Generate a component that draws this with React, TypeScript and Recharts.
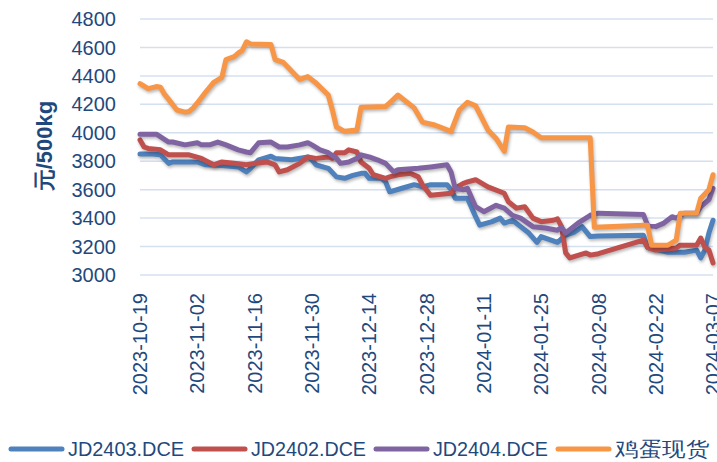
import React from 'react';
import { LineChart, Line, XAxis, YAxis, CartesianGrid } from 'recharts';

// tick labels on the date axis (every 14 days)
const tickDates = [
  '2023-10-19', '2023-11-02', '2023-11-16', '2023-11-30', '2023-12-14', '2023-12-28',
  '2024-01-11', '2024-01-25', '2024-02-08', '2024-02-22', '2024-03-07',
];
const yTicks = [3000, 3200, 3400, 3600, 3800, 4000, 4200, 4400, 4600, 4800];

// JD2403.DCE
const jd2403Dates = [
  '2023-10-19', '2023-10-22', '2023-10-24', '2023-10-26', '2023-10-27', '2023-11-02', '2023-11-04',
  '2023-11-08', '2023-11-12', '2023-11-14', '2023-11-15', '2023-11-17', '2023-11-20', '2023-11-21',
  '2023-11-25', '2023-11-29', '2023-11-30', '2023-12-01', '2023-12-04', '2023-12-06', '2023-12-08',
  '2023-12-10', '2023-12-12', '2023-12-13', '2023-12-14', '2023-12-17', '2023-12-18', '2023-12-19',
  '2023-12-22', '2023-12-25', '2023-12-27', '2023-12-29', '2024-01-02', '2024-01-03', '2024-01-04',
  '2024-01-07', '2024-01-09', '2024-01-10', '2024-01-13', '2024-01-15', '2024-01-16', '2024-01-18',
  '2024-01-20', '2024-01-22', '2024-01-24', '2024-01-25', '2024-01-29', '2024-01-31', '2024-02-02',
  '2024-02-04', '2024-02-06', '2024-02-08', '2024-02-19', '2024-02-20', '2024-02-25', '2024-02-29',
  '2024-03-03', '2024-03-04', '2024-03-05', '2024-03-06', '2024-03-07',
];
const jd2403Values = [
  3850, 3850, 3845, 3785, 3795, 3795, 3775,
  3770, 3760, 3725, 3750, 3810, 3835, 3820,
  3810, 3830, 3810, 3775, 3750, 3690, 3680,
  3700, 3715, 3715, 3680, 3680, 3655, 3585,
  3610, 3635, 3620, 3635, 3635, 3600, 3540,
  3540, 3410, 3350, 3375, 3400, 3365, 3385,
  3340, 3295, 3230, 3270, 3230, 3280, 3300,
  3340, 3270, 3275, 3280, 3195, 3160, 3160,
  3175, 3120, 3175, 3295, 3385,
];

// JD2402.DCE
const jd2402Dates = [
  '2023-10-19', '2023-10-20', '2023-10-21', '2023-10-24', '2023-10-26', '2023-10-31', '2023-11-03',
  '2023-11-06', '2023-11-08', '2023-11-11', '2023-11-14', '2023-11-16', '2023-11-19', '2023-11-21',
  '2023-11-22', '2023-11-24', '2023-11-27', '2023-11-29', '2023-12-01', '2023-12-04', '2023-12-05',
  '2023-12-06', '2023-12-08', '2023-12-09', '2023-12-11', '2023-12-12', '2023-12-14', '2023-12-15',
  '2023-12-18', '2023-12-19', '2023-12-21', '2023-12-24', '2023-12-26', '2023-12-27', '2023-12-29',
  '2024-01-03', '2024-01-04', '2024-01-06', '2024-01-07', '2024-01-09', '2024-01-12', '2024-01-16',
  '2024-01-17', '2024-01-19', '2024-01-21', '2024-01-23', '2024-01-25', '2024-01-28', '2024-01-29',
  '2024-01-30', '2024-01-31', '2024-02-01', '2024-02-05', '2024-02-06', '2024-02-08', '2024-02-19',
  '2024-02-20', '2024-02-22', '2024-02-27', '2024-02-28', '2024-03-03', '2024-03-04', '2024-03-05',
  '2024-03-06', '2024-03-07',
];
const jd2402Values = [
  3950, 3900, 3890, 3880, 3845, 3845, 3820,
  3775, 3795, 3785, 3775, 3785, 3795, 3775,
  3725, 3740, 3785, 3830, 3820, 3830, 3820,
  3860, 3860, 3880, 3865, 3795, 3750, 3705,
  3680, 3690, 3705, 3715, 3690, 3635, 3560,
  3575, 3610, 3645, 3655, 3670, 3620, 3575,
  3515, 3470, 3480, 3400, 3375, 3385, 3395,
  3340, 3155, 3120, 3155, 3140, 3150, 3245,
  3195, 3175, 3190, 3210, 3210, 3260, 3195,
  3175, 3085,
];

// JD2404.DCE
const jd2404Dates = [
  '2023-10-19', '2023-10-23', '2023-10-26', '2023-10-27', '2023-10-30', '2023-11-02', '2023-11-03',
  '2023-11-05', '2023-11-07', '2023-11-09', '2023-11-12', '2023-11-14', '2023-11-15', '2023-11-17',
  '2023-11-20', '2023-11-22', '2023-11-24', '2023-11-27', '2023-11-29', '2023-11-30', '2023-12-02',
  '2023-12-04', '2023-12-06', '2023-12-07', '2023-12-09', '2023-12-11', '2023-12-12', '2023-12-14',
  '2023-12-16', '2023-12-18', '2023-12-20', '2023-12-21', '2023-12-26', '2023-12-29', '2024-01-02',
  '2024-01-03', '2024-01-04', '2024-01-06', '2024-01-07', '2024-01-09', '2024-01-11', '2024-01-14',
  '2024-01-16', '2024-01-18', '2024-01-20', '2024-01-23', '2024-01-26', '2024-01-29', '2024-01-30',
  '2024-01-31', '2024-02-03', '2024-02-06', '2024-02-08', '2024-02-19', '2024-02-20', '2024-02-22',
  '2024-02-24', '2024-02-26', '2024-02-27', '2024-02-29', '2024-03-03', '2024-03-04', '2024-03-06',
  '2024-03-07',
];
const jd2404Values = [
  3990, 3990, 3935, 3935, 3915, 3930, 3915,
  3915, 3935, 3915, 3880, 3865, 3860, 3930,
  3935, 3900, 3900, 3915, 3930, 3915, 3880,
  3860, 3820, 3785, 3795, 3820, 3845, 3830,
  3810, 3785, 3725, 3740, 3750, 3760, 3775,
  3725, 3610, 3600, 3610, 3480, 3445, 3490,
  3470, 3420, 3400, 3340, 3330, 3315, 3335,
  3295, 3365, 3420, 3435, 3425, 3350, 3340,
  3365, 3410, 3400, 3435, 3435, 3480, 3530,
  3610,
];

// 鸡蛋现货
const spotDates = [
  '2023-10-19', '2023-10-21', '2023-10-23', '2023-10-24', '2023-10-25', '2023-10-26', '2023-10-28',
  '2023-10-30', '2023-10-31', '2023-11-01', '2023-11-02', '2023-11-04', '2023-11-06', '2023-11-08',
  '2023-11-09', '2023-11-11', '2023-11-12', '2023-11-13', '2023-11-14', '2023-11-15', '2023-11-20',
  '2023-11-21', '2023-11-23', '2023-11-27', '2023-11-29', '2023-12-01', '2023-12-04', '2023-12-05',
  '2023-12-06', '2023-12-08', '2023-12-11', '2023-12-12', '2023-12-18', '2023-12-19', '2023-12-21',
  '2023-12-25', '2023-12-27', '2023-12-30', '2024-01-03', '2024-01-05', '2024-01-07', '2024-01-09',
  '2024-01-12', '2024-01-14', '2024-01-16', '2024-01-17', '2024-01-21', '2024-01-23', '2024-01-25',
  '2024-02-06', '2024-02-07', '2024-02-19', '2024-02-20', '2024-02-21', '2024-02-25', '2024-02-27',
  '2024-02-28', '2024-03-03', '2024-03-04', '2024-03-06', '2024-03-07',
];
const spotValues = [
  4345, 4310, 4325, 4320, 4270, 4235, 4160,
  4145, 4150, 4175, 4210, 4285, 4355, 4390,
  4515, 4535, 4560, 4580, 4640, 4625, 4620,
  4515, 4495, 4375, 4395, 4350, 4265, 4160,
  4040, 4010, 4020, 4180, 4185, 4210, 4265,
  4175, 4075, 4055, 4010, 4160, 4215, 4190,
  4020, 3960, 3870, 4040, 4035, 4005, 3965,
  3965, 3335, 3350, 3350, 3210, 3210, 3245,
  3435, 3435, 3540, 3600, 3705,
];

const START = Date.UTC(2023, 9, 19);
const dayOf = (s: string) =>
  (Date.UTC(+s.slice(0, 4), +s.slice(5, 7) - 1, +s.slice(8, 10)) - START) / 86400000;

const toRows = (dates: string[], values: number[]) =>
  dates.map((d, i) => ({ t: dayOf(d), v: values[i] }));

const series = [
  { name: 'JD2403.DCE', color: '#4F81BD', data: toRows(jd2403Dates, jd2403Values) },
  { name: 'JD2402.DCE', color: '#C0504D', data: toRows(jd2402Dates, jd2402Values) },
  { name: 'JD2404.DCE', color: '#8064A2', data: toRows(jd2404Dates, jd2404Values) },
  { name: '鸡蛋现货', color: '#F79646', data: toRows(spotDates, spotValues) },
];

const xTicks = tickDates.map(dayOf);
const TEXT = '#1F497D';
const FONT = '"Liberation Sans", Arial, sans-serif';

const XTick = ({ x, y, payload }: any) => {
  const label = tickDates[xTicks.indexOf(payload.value)] ?? '';
  return (
    <text x={x} y={y} transform={`rotate(-90, ${x}, ${y})`} textAnchor="end" dy="0.36em"
      fill={TEXT} fontSize={20} fontFamily={FONT}>
      {label}
    </text>
  );
};

// legend drawn as svg so the text widths can match the original
const LEGEND_LINE = 55;
const legendTextW = [116, 115, 115, 94];

const Legend = () => {
  let x = 9;
  const items = series.map((s, i) => {
    const x0 = x;
    const tx = x0 + LEGEND_LINE + 4;
    x = tx + legendTextW[i] + 8;
    return (
      <g key={s.name}>
        <line x1={x0 + 2} y1={449} x2={x0 + LEGEND_LINE - 2} y2={449} stroke={s.color} strokeWidth={5} strokeLinecap="round" />
        <text x={tx} y={449} dominantBaseline="central" fill={TEXT} fontSize={20} fontFamily={FONT}
          textLength={legendTextW[i]} lengthAdjust="spacingAndGlyphs">
          {s.name}
        </text>
      </g>
    );
  });
  return (
    <svg width={717} height={462} style={{ position: 'absolute', left: 0, top: 0, pointerEvents: 'none' }}>
      {items}
    </svg>
  );
};

export default function App() {
  return (
    <div style={{ position: 'absolute', left: 0, top: 0, width: 717, height: 462, background: '#fff', overflow: 'hidden' }}>
      <style>{`.egg path.recharts-curve { filter: drop-shadow(1.5px 2.5px 1.5px rgba(0,0,0,0.28)); }`}</style>
      <LineChart className="egg" width={717} height={462} margin={{ top: 19, right: 4, left: 0, bottom: 0 }}>
        <CartesianGrid vertical={false} stroke="#D5E0EF" strokeWidth={1.5} />
        <XAxis
          type="number"
          dataKey="t"
          domain={[0, 140]}
          ticks={xTicks}
          interval={0}
          height={187}
          axisLine={false}
          tickLine={false}
          tickMargin={12}
          tick={<XTick />}
          allowDuplicatedCategory={false}
        />
        <YAxis
          type="number"
          domain={[3000, 4800]}
          ticks={yTicks}
          interval={0}
          width={140}
          axisLine={false}
          tickLine={false}
          tickMargin={18}
          tick={{ fill: TEXT, fontSize: 20, fontFamily: FONT }}
          label={{
            content: () => (
              <text x={52} y={146} transform="rotate(-90, 52, 146)" textAnchor="middle"
                fill={TEXT} fontSize={22} fontWeight="bold" fontFamily={FONT}>
                元/500kg
              </text>
            ),
          }}
        />
        {series.map((s) => (
          <Line
            key={s.name}
            data={s.data}
            dataKey="v"
            name={s.name}
            type="linear"
            stroke={s.color}
            strokeWidth={5}
            strokeLinejoin="round"
            strokeLinecap="round"
            dot={false}
            isAnimationActive={false}
          />
        ))}
      </LineChart>
      <Legend />
    </div>
  );
}
